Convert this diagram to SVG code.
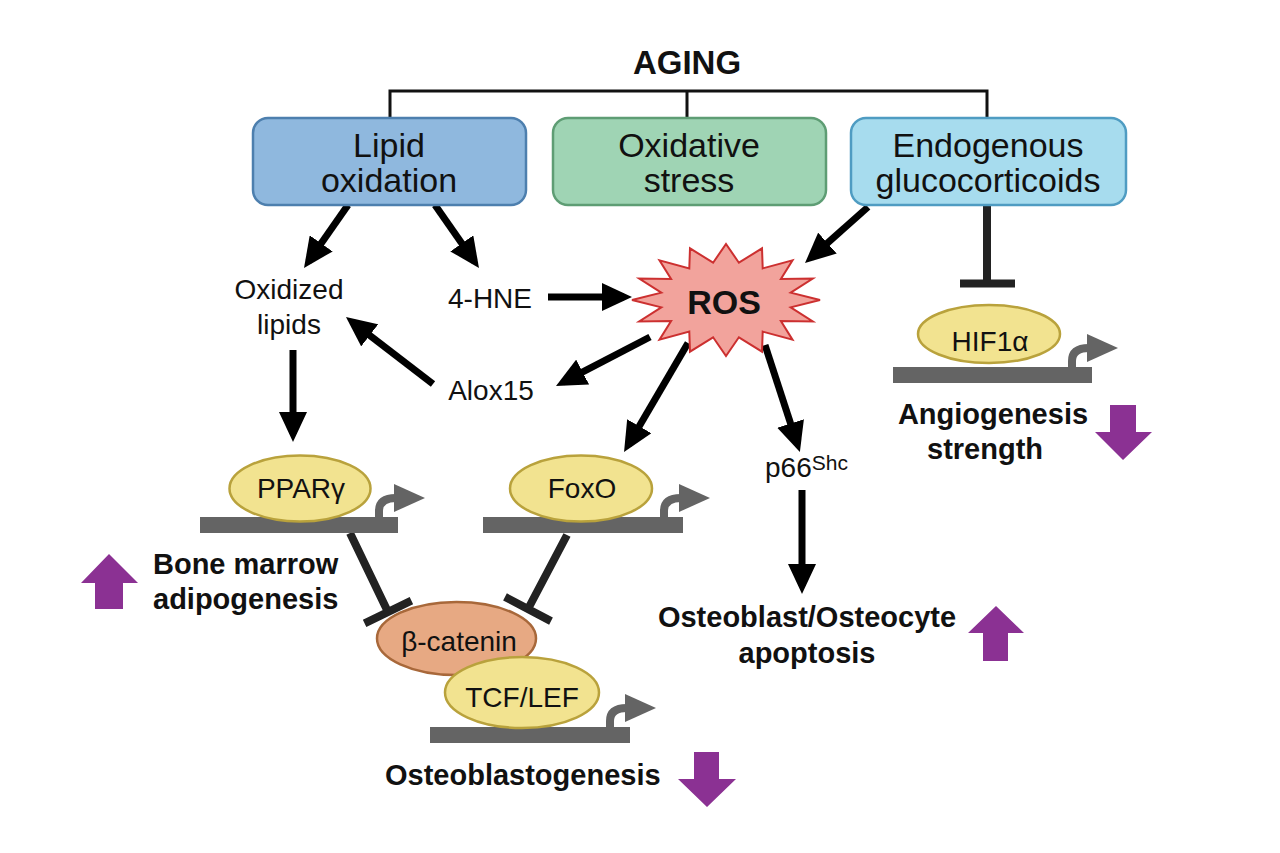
<svg xmlns="http://www.w3.org/2000/svg" xmlns:xlink="http://www.w3.org/1999/xlink" width="1280" height="853" viewBox="0 0 1280 853">
<style>
text{font-family:"Liberation Sans",Arial,Helvetica,sans-serif;fill:#111}
.box{font-size:34px;text-anchor:middle}
.lbl{font-size:28px;text-anchor:middle}
.bold{font-weight:bold;font-size:29px}
.arr{stroke:#000;stroke-width:7;fill:none;marker-end:url(#ah)}
.tbar{stroke:#222;stroke-width:8;fill:none}
.gene{fill:#646464}
.yel{fill:#f2e390;stroke:#b9a23c;stroke-width:2.5}
.purple{fill:#8b3193}
</style>
<defs>
<marker id="ah" markerUnits="userSpaceOnUse" markerWidth="30" markerHeight="28" viewBox="0 0 30 28" refX="22" refY="14" orient="auto">
<path d="M0,0 L30,14 L0,28 z" fill="#000"/>
</marker>
<g id="tss">
<path d="M2,2 L2,-6 Q2,-19 19,-19" stroke="#646464" stroke-width="8" fill="none"/>
<polygon points="17,-33 48,-19 17,-5" fill="#646464"/>
</g>
</defs>
<rect width="1280" height="853" fill="#fff"/>

<g id="aging">
<text x="687" y="74" text-anchor="middle" style="font-weight:bold;font-size:33px">AGING</text>
</g>

<g id="connectors">
<path d="M390,118 V91 H987 V118 M687,91 V118" stroke="#111" stroke-width="3" fill="none"/>
<line class="arr" x1="348" y1="205" x2="308.6" y2="261.4"/>
<line class="arr" x1="435" y1="205" x2="474.4" y2="261.4"/>
<line class="arr" x1="548" y1="297" x2="624" y2="297"/>
<line class="arr" x1="868" y1="207" x2="811" y2="257.7"/>
<line class="arr" x1="650" y1="337" x2="563.1" y2="382.2"/>
<line class="arr" x1="433" y1="384" x2="352.3" y2="321.9"/>
<line class="arr" x1="293" y1="350" x2="293" y2="434"/>
<line class="arr" x1="688" y1="343" x2="628.1" y2="445.2"/>
<line class="arr" x1="765" y1="345" x2="797.4" y2="444.4"/>
<line class="arr" x1="802" y1="490" x2="802" y2="586"/>
<path class="tbar" d="M987,205 V283.5 M960,283.5 H1015"/>
<path class="tbar" d="M350,533 L388,612 M364.6,623.3 L411.4,600.7"/>
<path class="tbar" d="M567,535 L528,609 M505,596.9 L551,621.1"/>
</g>

<g id="lipid-oxidation">
<rect x="253" y="118" width="273" height="87" rx="15" fill="#8fb8de" stroke="#4d7fae" stroke-width="2.5"/>
<text class="box" x="389" y="157">Lipid</text>
<text class="box" x="389" y="192">oxidation</text>
</g>
<g id="oxidative-stress">
<rect x="553" y="118" width="273" height="87" rx="15" fill="#9fd4b4" stroke="#5e9d74" stroke-width="2.5"/>
<text class="box" x="689" y="157">Oxidative</text>
<text class="box" x="689" y="192">stress</text>
</g>
<g id="glucocorticoids">
<rect x="851" y="118" width="275" height="87" rx="15" fill="#a7dcee" stroke="#4f9cc2" stroke-width="2.5"/>
<text class="box" x="988" y="157">Endogenous</text>
<text class="box" x="988" y="192">glucocorticoids</text>
</g>

<g id="oxidized-lipids">
<text class="lbl" x="289" y="299">Oxidized</text>
<text class="lbl" x="289" y="334">lipids</text>
</g>
<g id="hne">
<text class="lbl" x="490" y="308">4-HNE</text>
</g>
<g id="alox15">
<text class="lbl" x="491" y="400">Alox15</text>
</g>

<g id="ros">
<polygon points="820,300 790.7,307.4 812.8,321.4 780.9,321.1 792.5,339.6 762.7,331.6 762,351.7 738.9,337.3 726,356 713.1,337.3 690,351.7 689.3,331.6 659.5,339.6 671.1,321.1 639.2,321.4 661.3,307.4 632,300 661.3,292.6 639.2,278.6 671.1,278.9 659.5,260.4 689.3,268.4 690,248.3 713.1,262.7 726,244 738.9,262.7 762,248.3 762.7,268.4 792.5,260.4 780.9,278.9 812.8,278.6 790.7,292.6" fill="#f2a39c" stroke="#cc3030" stroke-width="2"/>
<text x="724" y="314" text-anchor="middle" style="font-weight:bold;font-size:34px">ROS</text>
</g>

<g id="hif1a">
<rect class="gene" x="893" y="367" width="199" height="16"/>
<use xlink:href="#tss" x="1070" y="367"/>
<ellipse class="yel" cx="989" cy="334" rx="71" ry="29"/>
<text class="lbl" x="990" y="351">HIF1α</text>
</g>
<g id="angiogenesis">
<text class="bold" x="993" y="424" text-anchor="middle">Angiogenesis</text>
<text class="bold" x="985" y="459" text-anchor="middle">strength</text>
<polygon class="purple" points="1110,405 1136,405 1136,432 1152,432 1123,460 1095,432 1110,432"/>
</g>

<g id="ppar">
<rect class="gene" x="200" y="517" width="198" height="16"/>
<use xlink:href="#tss" x="377" y="517"/>
<ellipse class="yel" cx="300" cy="488.5" rx="70.5" ry="33"/>
<text class="lbl" x="301" y="498">PPARγ</text>
</g>
<g id="foxo">
<rect class="gene" x="483" y="517" width="200" height="16"/>
<use xlink:href="#tss" x="662" y="517"/>
<ellipse class="yel" cx="581" cy="488.5" rx="71" ry="33"/>
<text class="lbl" x="582" y="498">FoxO</text>
</g>
<g id="p66shc">
<text x="765" y="477" style="font-size:28px">p66<tspan dy="-7" style="font-size:21px">Shc</tspan></text>
</g>

<g id="adipogenesis">
<polygon class="purple" points="109,554 138,583 123,583 123,609 95,609 95,583 81,583"/>
<text class="bold" x="153" y="574">Bone marrow</text>
<text class="bold" x="153" y="609">adipogenesis</text>
</g>

<g id="beta-catenin-tcf">
<rect class="gene" x="430" y="727" width="200" height="16"/>
<use xlink:href="#tss" x="608" y="727"/>
<ellipse cx="456.5" cy="638.5" rx="79.5" ry="36.5" fill="#e7a983" stroke="#a8683a" stroke-width="2.5"/>
<text class="lbl" x="459" y="651">β-catenin</text>
<ellipse class="yel" cx="522" cy="692.5" rx="77" ry="35.5"/>
<text class="lbl" x="522" y="707">TCF/LEF</text>
</g>
<g id="osteoblastogenesis">
<text class="bold" x="385" y="785">Osteoblastogenesis</text>
<polygon class="purple" points="694,752 719,752 719,779 736,779 707,807 678,779 694,779"/>
</g>

<g id="apoptosis">
<text class="bold" x="807" y="627" text-anchor="middle">Osteoblast/Osteocyte</text>
<text class="bold" x="807" y="663" text-anchor="middle">apoptosis</text>
<polygon class="purple" points="996,606 1024,633 1008,633 1008,661 983,661 983,633 968,633"/>
</g>
</svg>
